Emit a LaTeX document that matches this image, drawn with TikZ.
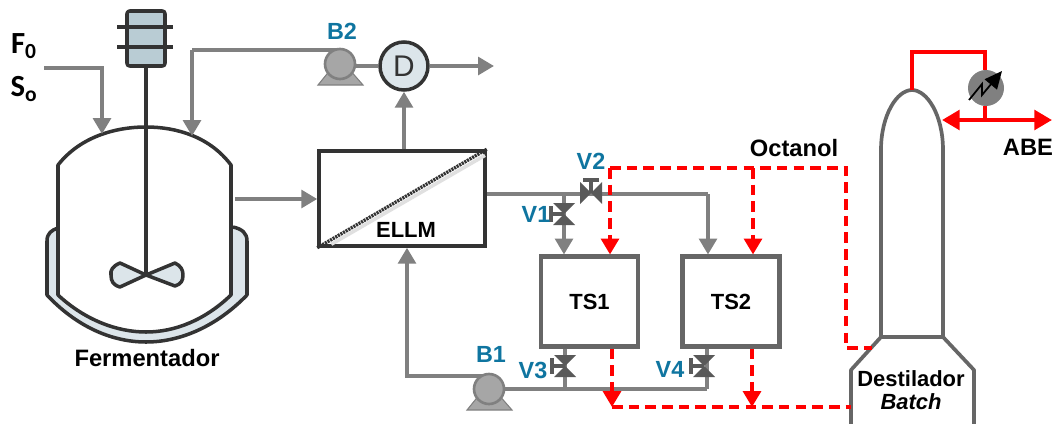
\documentclass[tikz,border=0pt]{standalone}
\usepackage{fontspec}
\setmainfont{Liberation Sans}
\newfontfamily\feedfont{Carlito}
\usetikzlibrary{arrows.meta}
\definecolor{linegray}{HTML}{808080}
\definecolor{tankgray}{HTML}{666666}
\definecolor{darkline}{HTML}{333333}
\definecolor{valvegray}{HTML}{595959}
\definecolor{pumpgray}{HTML}{A6A6A6}
\definecolor{tagblue}{HTML}{0F75A0}
\definecolor{motorblue}{HTML}{B9CCD4}
\definecolor{jacketblue}{HTML}{DCE5EA}
\tikzset{
    stream/.style={draw=linegray,line width=2.1pt},
    feed/.style={stream,-{Triangle[length=9pt,width=10pt]}},
    hot/.style={draw=red,line width=2.4pt},
    hotarrow/.style={hot,-{Triangle[length=10pt,width=11pt]}},
    solvent/.style={hot,dash pattern=on 6pt off 3.5pt},
    solventarrow/.style={solvent,-{Triangle[length=9pt,width=10pt]}},
    vesselline/.style={draw=darkline,line width=2pt,line join=round},
    tank/.style={draw=tankgray,line width=2.3pt,fill=white,inner sep=0pt,font=\fontsize{12.5}{14}\selectfont\bfseries},
    tag/.style={inner sep=0pt,text=tagblue,font=\fontsize{13.3}{16}\selectfont\bfseries},
    title/.style={inner sep=0pt,font=\fontsize{13.5}{15}\selectfont\bfseries},
    valve/.pic={
        \fill[valvegray] (-11,-11) -- (11,-11) -- (-11,11) -- (11,11) -- cycle;
        \draw[valvegray,line width=1.9pt] (0,0) -- (-13,0) (-13,-8) -- (-13,8);
    },
    pump/.pic={
        \fill[pumpgray,draw=linegray,line width=.6pt] (-22,21) -- (23,21) -- (9,5) -- (-9,5) -- cycle;
        \draw[fill=pumpgray,draw=linegray,line width=1.5pt] (0,0) circle (15);
    },
}
\begin{document}
\begin{tikzpicture}[x=0.02cm,y=-0.02cm]
    \useasboundingbox (0,0) rectangle (1055,423);
    %feed and fermenter
    \node[inner sep=0pt,font=\fontsize{17.5}{19}\selectfont\bfseries\feedfont] (f0) at (24,46) {F\textsubscript{0}};
    \node[inner sep=0pt,font=\fontsize{17.5}{19}\selectfont\bfseries\feedfont] (s0) at (24,89) {S\textsubscript{o}};
    \coordinate (feedstart) at (44,68);
    \coordinate (feedcorner) at (102,68);
    \coordinate (feedend) at (102,134);
    \coordinate (backend) at (192,136);
    \coordinate (backcorner) at (192,50);
    \coordinate (outstart) at (235,199);
    \draw[vesselline,fill=jacketblue] (58,228) .. controls (52,230) and (47,233) .. (47,241) -- (47,295)
        .. controls (75,325) and (110,342) .. (146,342) .. controls (182,342) and (218,325) .. (247,295)
        -- (247,241) .. controls (247,233) and (242,229) .. (233,227);
    \draw[vesselline,fill=white] (58,165) .. controls (80,137) and (115,127) .. (146,127)
        .. controls (177,127) and (210,137) .. (231,165) -- (231,295)
        .. controls (205,320) and (175,332) .. (146,332) .. controls (117,332) and (85,320) .. (58,295) -- cycle;
    \draw[vesselline] (146,66) -- (146,275);
    \draw[vesselline,fill=jacketblue] (146,275) -- (120,263) .. controls (113,266) and (110,270) .. (111,275)
        .. controls (111,281) and (113,285) .. (120,287) -- cycle;
    \draw[vesselline,fill=jacketblue] (146,275) -- (175,263) .. controls (181,266) and (183,270) .. (183,275)
        .. controls (183,281) and (181,284) .. (175,286) -- cycle;
    \draw[vesselline,fill=motorblue,rounded corners=1.5pt] (127,11) rectangle (165,66);
    \draw[vesselline] (117,27) -- (173,27) (117,47) -- (173,47);
    \node[title] (fermentador) at (147,358) {Fermentador};
    \draw[feed] (feedstart) -- (feedcorner) -- (feedend);
    \draw[feed] (backcorner) -- (backend);
    %membrane and decanter
    \node[draw=darkline,line width=2pt,fill=white,inner sep=0pt,minimum width=3.32cm,minimum height=1.9cm] (ellm) at (402,198.5) {};
    \draw[line width=2pt,draw=black!12] ([xshift=8pt,yshift=2pt]ellm.south west) -- ([xshift=-1pt,yshift=-3.5pt]ellm.north east);
    \draw[line width=1.9pt,draw=darkline,dash pattern=on 1.2pt off .5pt] (ellm.south west) -- (ellm.north east);
    \node[inner sep=0pt,font=\fontsize{12.5}{14}\selectfont\bfseries] (ellmtext) at (406,230) {ELLM};
    \node[circle,draw=darkline,line width=2pt,fill=jacketblue,minimum size=0.96cm,inner sep=0pt,font=\fontsize{17}{18}\selectfont,text=darkline] (d) at (404,66) {D};
    \coordinate (pumptwo) at (340,66);
    \coordinate (pumptwotop) at (340,50);
    \coordinate (dout) at (494,66);
    \draw[stream] (backcorner) -- (pumptwotop);
    \draw[stream] (pumptwo) -- (d);
    \pic (b2) at (340,64) {pump};
    \draw[feed] (d) -- (dout);
    \draw[feed] (ellm.north -| d) -- (d);
    \draw[feed] (outstart) -- (outstart -| ellm.west);
    \node[tag] (b2text) at (342,31) {B2};
    %tanks
    \node[tank,minimum width=1.94cm,minimum height=1.8cm] (ts1) at (589.5,301.5) {TS1};
    \node[tank,minimum width=1.94cm,minimum height=1.8cm] (ts2) at (731,301.5) {TS2};
    \coordinate (ellmout) at (487,194);
    \coordinate (splitone) at (564,194);
    \coordinate (splittwo) at (708,194);
    \draw[stream] (ellmout) -- (splittwo);
    \draw[feed] (splitone) -- (splitone |- ts1.north);
    \draw[feed] (splittwo) -- (splittwo |- ts2.north);
    \pic (v1) at (564,214) {valve};
    \pic[rotate=-90] (v2) at (591,193) {valve};
    \node[tag] (v1text) at (536,214) {V1};
    \node[tag] (v2text) at (591,161) {V2};
    %bottom line and pump
    \coordinate (pumpone) at (489,389);
    \coordinate (pumponetop) at (489,376);
    \coordinate (backleft) at (407,376);
    \coordinate (bottomone) at (565,389);
    \coordinate (bottomtwo) at (707,389);
    \draw[stream] (bottomone |- ts1.south) -- (bottomone);
    \draw[stream] (bottomtwo |- ts2.south) -- (bottomtwo);
    \draw[stream] (pumpone) -- (bottomtwo);
    \draw[feed] (pumponetop) -- (backleft) -- (backleft |- ellm.south);
    \pic (b1) at (pumpone) {pump};
    \pic (v3) at (565,366) {valve};
    \pic (v4) at (704,366) {valve};
    \node[tag] (b1text) at (491,354) {B1};
    \node[tag] (v3text) at (533,370) {V3};
    \node[tag] (v4text) at (670,369) {V4};
    %distiller
    \draw[draw=tankgray,line width=2.1pt,fill=white,line join=round] (881,337) -- (881,150) .. controls (881,115) and (897,90) .. (912,90)
        .. controls (927,90) and (943,115) .. (943,150) -- (943,337) -- cycle;
    \draw[draw=tankgray,line width=2.1pt,fill=white,line join=round] (851,425) -- (851,370) -- (881,337) -- (943,337) -- (974,370) -- (974,425);
    \node[inner sep=0pt,align=center,font=\fontsize{12.5}{13.2}\selectfont\bfseries] (destilador) at (911,390) {Destilador\\\textit{Batch}};
    %solvent loop
    \coordinate (redstart) at (610,168);
    \coordinate (redmid) at (753,168);
    \coordinate (redcorner) at (846,168);
    \coordinate (redlow) at (846,348);
    \coordinate (redin) at (872,348);
    \coordinate (returnone) at (612,407);
    \coordinate (returntwo) at (752,407);
    \coordinate (returnend) at (851,407);
    \draw[solvent] (redstart) -- (redcorner) -- (redlow) -- (redin);
    \draw[solventarrow] (redstart) -- (redstart |- ts1.north);
    \draw[solventarrow] (redmid) -- (redmid |- ts2.north);
    \draw[solventarrow] (returnone |- ts1.south) -- (returnone);
    \draw[solventarrow] (returntwo |- ts2.south) -- (returntwo);
    \draw[solvent] (returnone) -- (returnend);
    \node[title] (octanol) at (794,148) {Octanol};
    %condenser
    \node[circle,fill=linegray,minimum size=0.72cm,inner sep=0pt] (hx) at (986,88) {};
    \coordinate (coltop) at (912,90);
    \coordinate (topleft) at (912,52);
    \coordinate (topright) at (985,52);
    \coordinate (split) at (985,120);
    \coordinate (reflux) at (942,120);
    \coordinate (abeout) at (1052,120);
    \draw[hot] (coltop) -- (topleft) -- (topright) -- (topright |- hx.north);
    \draw[hot] (topright |- hx.south) -- (split);
    \draw[hotarrow] (split) -- (reflux);
    \draw[hotarrow] (split) -- (abeout);
    \draw[line width=1pt,-{Triangle[length=10pt,width=9pt]}] (969,100) -- (982,84) -- (982,95) -- (1002,71);
    \node[title] (abe) at (1028,147) {ABE};
\end{tikzpicture}
\end{document}
